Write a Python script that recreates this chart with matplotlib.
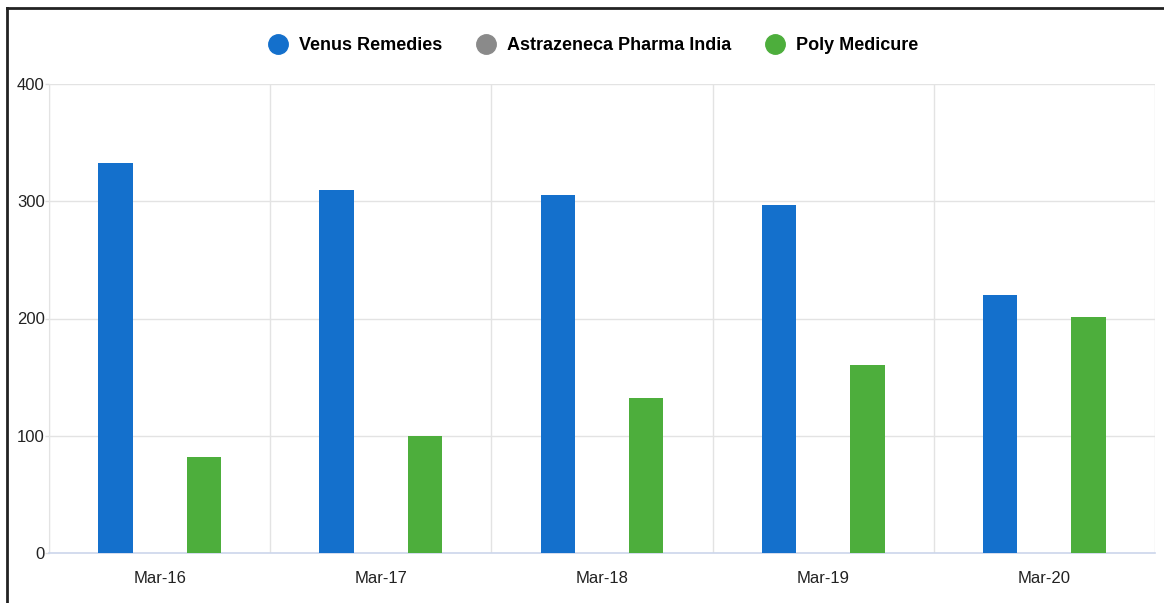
import matplotlib
matplotlib.use("Agg")
import matplotlib.pyplot as plt
from matplotlib.lines import Line2D
import numpy as np

categories = ["Mar-16", "Mar-17", "Mar-18", "Mar-19", "Mar-20"]
series_names = ["Venus Remedies", "Astrazeneca Pharma India", "Poly Medicure"]
venus = [333, 310, 305, 297, 220]
astra = [0, 0, 0, 0, 0]
poly = [82, 100, 132, 160, 201]
colors = ["#1470cc", "#8a8a8a", "#4dae3c"]
yticks = [0, 100, 200, 300, 400]

plt.rcParams['font.family'] = ['Liberation Sans', 'DejaVu Sans']

fig = plt.figure(figsize=(11.64, 6.03), dpi=100)
ax = fig.add_axes([49/1164, 50/603, (1155-49)/1164, (553-84)/603])

x = np.arange(len(categories))
offsets = [-0.2, 0.0, 0.2]
for vals, off, col in zip([venus, astra, poly], offsets, colors):
    ax.bar(x + off, vals, width=0.156, color=col, zorder=3)

ax.set_xlim(-0.5, len(categories) - 0.5)
ax.set_ylim(0, 400)
ax.set_yticks(yticks)
ax.set_yticklabels([str(v) for v in yticks], fontsize=12, color="#222222")
ax.set_xticks(x)
ax.set_xticklabels(categories, fontsize=12, color="#222222")
ax.tick_params(axis='y', length=3, width=1, color="#dddddd", pad=0)
ax.tick_params(axis='x', length=0, pad=13)

for v in yticks[1:]:
    ax.axhline(v, color="#e3e3e3", lw=1, zorder=1)
for b in np.arange(-0.5, len(categories), 1.0):
    ax.axvline(b, color="#e3e3e3", lw=1, zorder=1)

for s in ["top", "right"]:
    ax.spines[s].set_visible(False)
ax.spines["left"].set_color("#e3e3e3")
ax.spines["bottom"].set_color("#ccd6eb")
ax.spines["bottom"].set_linewidth(1.2)

handles = [Line2D([0], [0], marker='o', linestyle='None', markersize=14,
                  markerfacecolor=c, markeredgecolor=c) for c in colors]
fig.legend(handles, series_names, loc="center", bbox_to_anchor=(0.506, 1 - 46/603),
           ncol=3, frameon=False, prop={'weight': 'bold', 'size': 13},
           handletextpad=0.15, columnspacing=1.45)

# figure border (top and left)
fig.add_artist(Line2D([7/1164, 1.0], [1 - 8/603, 1 - 8/603], transform=fig.transFigure,
                      color="#222222", lw=2))
fig.add_artist(Line2D([7/1164, 7/1164], [0, 1 - 8/603], transform=fig.transFigure,
                      color="#222222", lw=2))

fig.savefig("out.png", dpi=100)
